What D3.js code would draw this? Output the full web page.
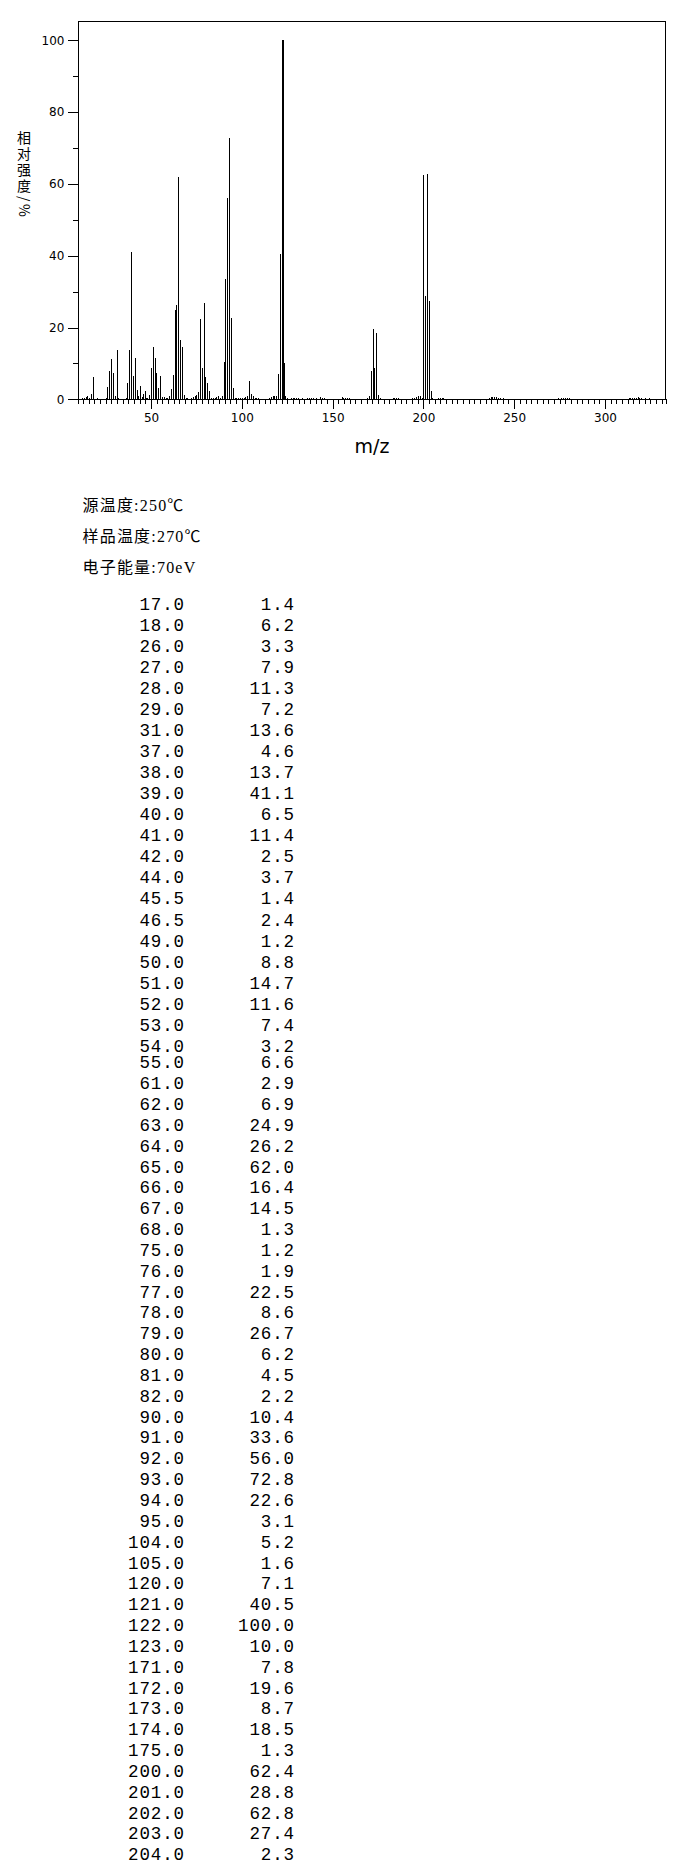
<!DOCTYPE html>
<html><head><meta charset="utf-8">
<script src="https://cdn.jsdelivr.net/npm/d3@7"></script>
<style>
html,body{margin:0;padding:0;background:#fff;}
svg{display:block;}
</style></head>
<body>
<script>
// Table peaks (m/z, relative intensity)
const tableMz = [17,18,26,27,28,29,31,37,38,39,40,41,42,44,45.5,46.5,49,50,51,52,53,54,55,61,62,63,64,65,66,67,68,75,76,77,78,79,80,81,82,90,91,92,93,94,95,104,105,120,121,122,123,171,172,173,174,175,200,201,202,203,204];
const tableInt = [1.4,6.2,3.3,7.9,11.3,7.2,13.6,4.6,13.7,41.1,6.5,11.4,2.5,3.7,1.4,2.4,1.2,8.8,14.7,11.6,7.4,3.2,6.6,2.9,6.9,24.9,26.2,62.0,16.4,14.5,1.3,1.2,1.9,22.5,8.6,26.7,6.2,4.5,2.2,10.4,33.6,56.0,72.8,22.6,3.1,5.2,1.6,7.1,40.5,100.0,10.0,7.8,19.6,8.7,18.5,1.3,62.4,28.8,62.8,27.4,2.3];
// Minor peaks seen only in the plot (estimated)
const minorMz = [12,13,14,15,16,20,25,30,32,36,43,45,47,48,56,57,58,59,60,69,70,72,73,74,83,84,85,86,87,88,89,96,97,98,99,100,101,102,103,106,107,108,109,115,116,117,118,119,124,125,127,128,129,130,131,133,136,137,138,139,141,143,144,145,155,156,157,158,159,169,170,176,183,184,185,186,194,195,196,197,198,199,205,208,209,210,211,236,237,238,239,240,241,242,244,274,276,277,278,279,280,313,314,315,316,317,318,319,320,322,324];
const minorInt = [0.4,0.5,0.6,0.9,0.5,0.3,0.3,0.9,0.3,0.4,1.0,0.6,0.5,0.4,0.6,0.6,0.3,0.4,0.8,0.4,0.3,0.3,0.6,0.8,0.4,0.3,0.4,0.6,0.8,0.5,0.9,0.4,0.4,0.3,0.5,0.4,0.5,0.6,0.8,0.8,0.5,0.4,0.3,0.4,0.6,0.8,0.8,1.0,0.9,0.4,0.3,0.4,0.4,0.4,0.4,0.3,0.3,0.4,0.4,0.3,0.3,0.6,0.5,0.4,0.6,0.4,0.3,0.3,0.3,0.4,0.9,0.3,0.4,0.5,0.4,0.4,0.4,0.5,0.7,0.8,1.0,0.5,0.3,0.4,0.4,0.4,0.3,0.4,0.6,0.7,0.7,0.6,0.5,0.4,0.3,0.3,0.4,0.4,0.4,0.4,0.3,0.3,0.4,0.4,0.4,0.5,0.6,0.5,0.4,0.3,0.3];
const yTicks = [0,20,40,60,80,100];
const xTicks = [50,100,150,200,250,300];
const infoLines = ["源温度:250℃","样品温度:270℃","电子能量:70eV"];
const yTitle = "相对强度/%";
const xTitle = "m/z";

const W = 687, H = 1864;
const svg = d3.select("body").append("svg").attr("width", W).attr("height", H);

const x = d3.scaleLinear().domain([10, 333.4]).range([78.4, 665.6]);
const y = d3.scaleLinear().domain([0, 100]).range([399.3, 40.3]);

const peaks = tableMz.map((m,i)=>({m, v: tableInt[i]}))
  .concat(minorMz.map((m,i)=>({m, v: minorInt[i]})));
const maxV = d3.max(peaks, d=>d.v);

const g = svg.append("g");
// frame
g.append("rect").attr("x", x(10)).attr("y", y(105.3)).attr("width", x(333.4)-x(10)).attr("height", y(0)-y(105.3))
  .attr("fill","none").attr("stroke","#000").attr("stroke-width",1).attr("shape-rendering","crispEdges");

// bars
g.selectAll("line.peak").data(peaks).join("line").attr("class","peak")
  .attr("x1", d=>Math.round(x(d.m))+0.5).attr("x2", d=>Math.round(x(d.m))+0.5)
  .attr("y1", y(0)).attr("y2", d=>y(d.v))
  .attr("stroke","#000").attr("stroke-width", d=>d.v===maxV?2:1)
  .attr("shape-rendering","crispEdges");

// y axis
const yMinor = d3.range(10, 101, 20);
const yAx = d3.axisLeft(y).tickValues(yTicks).tickSize(10).tickPadding(4).tickFormat(d3.format("d"));
const yg = svg.append("g").attr("transform",`translate(${x(10)},0)`).call(yAx);
yg.select(".domain").remove();
yg.selectAll("text").attr("font-family","DejaVu Sans").attr("font-size",12).attr("fill","#000");
yg.selectAll("line").attr("shape-rendering","crispEdges");
svg.append("g").attr("transform",`translate(${x(10)},0)`).call(d3.axisLeft(y).tickValues(yMinor).tickSize(5).tickFormat(""))
  .call(s=>s.select(".domain").remove()).selectAll("line").attr("shape-rendering","crispEdges");

// x axis
const xMinor = d3.range(-12, 92).map(k=>50 + k*50/16).filter(v=>v>=10 && v<=333.4 && !xTicks.includes(v));
const xAx = d3.axisBottom(x).tickValues(xTicks).tickSize(10).tickPadding(4);
const xg = svg.append("g").attr("transform",`translate(0,${y(0)})`).call(xAx);
xg.select(".domain").remove();
xg.selectAll("text").attr("font-family","DejaVu Sans").attr("font-size",12).attr("fill","#000");
xg.selectAll("line").attr("shape-rendering","crispEdges");
svg.append("g").attr("transform",`translate(0,${y(0)})`).call(d3.axisBottom(x).tickValues(xMinor.concat([10,333.4])).tickSize(5).tickFormat(""))
  .call(s=>s.select(".domain").remove()).selectAll("line").attr("shape-rendering","crispEdges");

// titles
svg.append("text").attr("x", (x(10)+x(333.4))/2).attr("y", 453).attr("text-anchor","middle")
  .attr("font-family","DejaVu Sans").attr("font-size",19).text(xTitle);

// vertical y title in one text element: CJK upright, "/" and "%" rotated 90°
const fs = 14, cx = 24;
let cursor = 131; // top of first glyph
const xs = [], ys = [], rs = [];
Array.from(yTitle).forEach(c => {
  if (/[\/%]/.test(c)) {
    const adv = c === "/" ? 6 : 12;
    xs.push(cx - 5); ys.push(cursor + 1); rs.push(90);
    cursor += adv + 2;
  } else {
    xs.push(cx - fs/2); ys.push(cursor + fs*0.88); rs.push(0);
    cursor += 16;
  }
});
svg.append("text").attr("font-family","Noto Sans CJK SC").attr("font-size",fs)
  .attr("x", xs.join(" ")).attr("y", ys.join(" ")).attr("rotate", rs.join(" ")).text(yTitle);

// info lines
const infoY = d3.scaleLinear().domain([0,1]).range([511, 542]);
svg.selectAll("text.info").data(infoLines).join("text").attr("class","info")
  .attr("x", 82.5).attr("y", (d,i)=>infoY(i))
  .attr("font-family","'Liberation Serif','Noto Sans CJK SC'").attr("font-size",16).attr("letter-spacing",1.2).text(d=>d);

// table
const rowY = d3.scaleLinear().domain([0,21,22,60]).range([604,1046,1062.5,1854.5]);
const fmt = d3.format(".1f");
const rows = svg.selectAll("g.row").data(tableMz.map((m,i)=>({m, v: tableInt[i], i}))).join("g").attr("class","row")
  .attr("transform", d=>`translate(0,${rowY(d.i)+5.8})`);
rows.append("text").attr("x", 185).attr("text-anchor","end")
  .attr("font-family","Liberation Mono").attr("font-size",17.5).attr("letter-spacing",0.9).text(d=>fmt(d.m));
rows.append("text").attr("x", 295).attr("text-anchor","end")
  .attr("font-family","Liberation Mono").attr("font-size",17.5).attr("letter-spacing",0.9).text(d=>fmt(d.v));
</script>
</body></html>
